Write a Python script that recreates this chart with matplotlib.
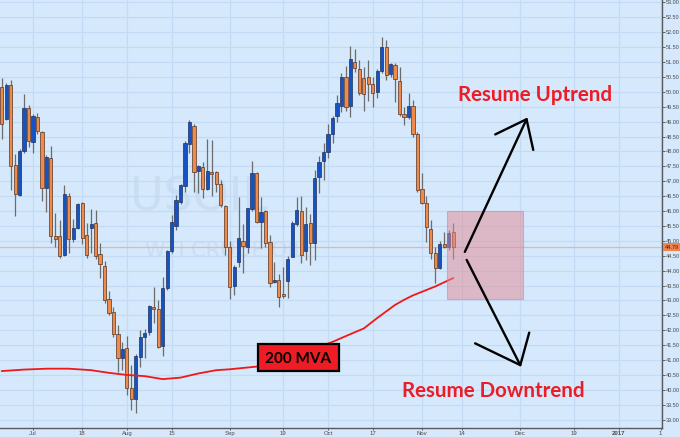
import numpy as np
import matplotlib
matplotlib.use("Agg")
import matplotlib.pyplot as plt
from matplotlib.patches import Rectangle

# Daily USOIL candles, 22 Jun 2016 - 10 Nov 2016 (weekday index from 0)
opens = [50.15, 49.08, 50.22, 47.54, 46.53, 48.01, 49.47, 48.31, 49.16, 48.65,
         46.76, 47.79, 45.16, 45.15, 44.52, 46.51, 45.07, 45.44, 46.26, 45.18,
         45.42, 45.59, 44.57, 44.15, 43.04, 42.60, 41.87, 41.06, 41.41, 40.05,
         39.68, 41.11, 41.78, 41.95, 42.79, 42.70, 41.47, 43.41, 44.66, 45.50,
         46.31, 46.85, 48.25, 48.85, 47.34, 47.49, 46.74, 47.32, 47.31, 46.91,
         46.17, 44.80, 43.48, 44.28, 45.00, 44.78, 46.08, 47.27, 45.62, 46.01,
         44.95, 43.62, 43.68, 43.18, 43.66, 44.47, 45.56, 46.01, 44.67, 45.59,
         44.92, 47.15, 47.69, 47.99, 48.58, 49.19, 49.52, 50.51, 49.52, 51.01,
         50.76, 50.47, 50.51, 50.25, 49.98, 50.71, 51.49, 50.60, 50.90, 50.36,
         49.25, 49.16, 49.53, 48.57, 46.73, 46.26, 45.40, 44.58, 44.08, 44.89,
         44.78, 45.31]
highs = [50.45, 50.29, 50.40, 47.91, 48.09, 49.93, 49.56, 49.26, 49.30, 48.70,
         47.88, 48.18, 45.92, 45.70, 46.87, 46.60, 45.73, 46.28, 46.30, 45.59,
         46.06, 46.03, 44.92, 44.32, 43.33, 42.78, 42.17, 41.61, 41.81, 40.83,
         41.20, 42.00, 42.03, 42.85, 43.46, 43.01, 43.80, 44.70, 45.87, 46.54,
         46.90, 48.35, 49.05, 48.92, 47.55, 47.65, 48.41, 48.38, 47.35, 47.04,
         46.20, 45.00, 44.20, 46.48, 45.56, 46.10, 47.69, 47.30, 46.48, 46.05,
         45.20, 44.30, 43.90, 44.11, 44.50, 45.65, 46.48, 46.50, 46.14, 45.90,
         47.38, 47.85, 48.27, 48.92, 49.20, 49.89, 50.62, 50.87, 51.54, 51.43,
         51.07, 50.84, 51.07, 50.50, 50.75, 51.85, 51.74, 50.96, 50.96, 50.84,
         49.50, 49.95, 49.72, 48.65, 47.29, 46.50, 45.70, 44.80, 45.00, 45.31,
         45.35, 45.59]
lows = [48.42, 49.05, 46.70, 45.84, 46.50, 47.95, 48.16, 47.94, 48.60, 46.35,
        45.96, 44.92, 44.80, 44.43, 44.50, 44.58, 44.96, 45.40, 44.89, 44.44,
        44.58, 44.40, 43.76, 42.90, 42.50, 41.78, 40.61, 40.66, 39.83, 39.32,
        39.21, 40.77, 41.06, 41.84, 42.23, 41.40, 41.13, 43.35, 44.60, 45.36,
        46.22, 46.65, 47.96, 46.65, 46.61, 46.43, 46.70, 46.50, 46.65, 46.12,
        44.52, 43.04, 43.18, 44.11, 43.91, 44.58, 46.00, 45.60, 44.75, 44.80,
        43.46, 43.57, 42.77, 43.07, 43.07, 44.45, 45.50, 44.24, 44.36, 44.19,
        44.36, 46.59, 47.04, 47.77, 48.27, 49.00, 49.33, 49.37, 49.14, 50.67,
        49.90, 49.37, 49.70, 49.48, 49.78, 50.62, 50.40, 50.51, 49.67, 49.19,
        48.89, 49.10, 48.47, 46.65, 46.23, 44.97, 44.38, 43.59, 44.05, 44.75,
        44.70, 44.38]
closes = [48.91, 50.22, 47.52, 46.56, 48.01, 49.46, 48.34, 49.19, 48.68, 46.76,
          47.82, 45.15, 45.07, 44.50, 46.56, 45.05, 45.42, 46.24, 45.08, 44.52,
          45.57, 44.49, 44.21, 43.01, 42.59, 41.86, 41.06, 41.36, 40.05, 39.68,
          41.13, 41.78, 41.92, 42.81, 42.71, 41.43, 43.41, 44.66, 45.64, 46.37,
          46.87, 48.27, 48.98, 47.32, 47.51, 46.74, 47.34, 47.24, 46.91, 46.20,
          44.78, 43.46, 44.13, 45.08, 44.84, 46.09, 47.27, 45.64, 45.98, 44.94,
          43.57, 43.67, 43.12, 43.14, 44.38, 45.59, 46.03, 44.52, 45.56, 44.92,
          47.12, 47.65, 47.99, 48.58, 49.13, 49.63, 50.51, 49.50, 51.09, 50.81,
          49.95, 49.92, 50.25, 49.97, 50.71, 51.49, 50.56, 50.92, 50.42, 49.24,
          49.16, 49.53, 48.58, 46.70, 46.28, 45.45, 44.60, 44.08, 44.89, 44.78,
          45.27, 44.79]

# 200-period moving average, sampled at candle indices
mva_idx = [0, 5, 10, 15, 20, 24, 28, 32, 36, 40, 44, 48, 51, 55, 57, 62, 67,
           72, 74, 78, 81, 84, 86, 88, 90, 92, 94, 97, 101]
mva_val = [40.63, 40.68, 40.71, 40.71, 40.66, 40.57, 40.50, 40.46, 40.36,
           40.41, 40.55, 40.66, 40.69, 40.75, 40.78, 41.00, 41.27, 41.50,
           41.61, 41.87, 42.06, 42.41, 42.63, 42.85, 43.02, 43.17, 43.29,
           43.47, 43.75]

# Date axis labels at weekday indices
tick_pos = [7, 18, 28, 38, 51, 63, 73, 83, 94, 103, 116, 128, 138, 147.4]
tick_lab = ["Jul", "18", "Aug", "15", "Sep", "19", "Oct", "17", "Nov", "14",
            "Dec", "19", "2017", "1"]

BG = "#d5e8fc"
GRID = "#c2daf4"
UP = "#1552c4"
DOWN = "#f08a4b"
RED = "#ee1c25"

plt.rcParams["font.family"] = ["Liberation Sans", "DejaVu Sans"]

fig = plt.figure(figsize=(6.8, 4.37), dpi=100, facecolor=BG)
ax = fig.add_axes([0, 9 / 437, 662 / 680, 428 / 437], facecolor=BG)
ax.set_xlim(-0.38, 147.7)
ax.set_ylim(38.72, 53.08)

# background watermark
ax.text(28.7, 46.45, "USOIL", fontsize=33, color="#c9ddf3", ha="left",
        va="center", family="DejaVu Sans", zorder=0.5)
ax.text(32.0, 44.65, "WTI CRUDE OIL", fontsize=15, color="#c9ddf3",
        ha="left", va="center", family="DejaVu Sans", zorder=0.5)

# last price line
last = closes[-1]
ax.axhline(last, color="#e3b7a6", lw=0.9, zorder=1)

# candles
o = np.array(opens); h = np.array(highs); l = np.array(lows); c = np.array(closes)
x = np.arange(len(o))
up = c >= o
ax.vlines(x, l, h, color="#6c6c6c", lw=0.9, zorder=2)
body_lo = np.minimum(o, c)
body_h = np.maximum(np.abs(c - o), 0.06)
ax.bar(x[up], body_h[up], bottom=body_lo[up], width=0.72, color=UP,
       edgecolor="#22325a", linewidth=0.5, zorder=3)
ax.bar(x[~up], body_h[~up], bottom=body_lo[~up], width=0.72, color=DOWN,
       edgecolor="#5a3520", linewidth=0.5, zorder=3)

# 200 MVA
ax.plot(mva_idx, mva_val, color="#f01818", lw=1.3, zorder=4,
        solid_capstyle="round", solid_joinstyle="round")

# shaded decision zone
ax.add_patch(Rectangle((99.7, 43.04), 17.0, 2.96, facecolor="#e38a94",
                       alpha=0.5, edgecolor="#b88595", lw=0.8, zorder=5))

# scenario arrows
arrow_kw = dict(color="black", lw=1.7, zorder=6, solid_capstyle="round")
ax.plot([103.6, 117.4], [44.63, 49.08], **arrow_kw)
ax.plot([110.4, 117.4, 118.9], [48.57, 49.08, 48.05], **arrow_kw)
ax.plot([104.0, 116.0], [44.36, 40.83], **arrow_kw)
ax.plot([105.9, 116.0, 118.0], [41.56, 40.83, 41.92], **arrow_kw)

ax.text(119.4, 49.70, "Resume Uptrend", color=RED, fontsize=14.8,
        fontweight="bold", family="Lato", ha="center", va="baseline",
        zorder=7)
ax.text(110.0, 39.75, "Resume Downtrend", color=RED, fontsize=14.8,
        fontweight="bold", family="Lato", ha="center", va="baseline",
        zorder=7)

# 200 MVA label
ax.add_patch(Rectangle((57.27, 40.63), 18.26, 0.90, facecolor=RED,
                       edgecolor="black", lw=1.6, zorder=7))
ax.text(66.4, 41.08, "200 MVA", color="black", fontsize=11,
        fontweight="bold", family="Lato", ha="center", va="center_baseline",
        zorder=8)

# axes styling
ax.yaxis.tick_right()
ax.set_yticks(np.arange(39.0, 53.01, 0.5))
ax.set_yticklabels([f"{v:.2f}" for v in np.arange(39.0, 53.01, 0.5)])
ax.set_xticks(tick_pos)
ax.set_xticklabels(tick_lab)
for t in ax.get_xticklabels():
    if t.get_text() == "2017":
        t.set_fontweight("bold")
ax.tick_params(axis="y", labelsize=4.0, colors="#4a4a4a", length=2,
               width=0.6, pad=1.0)
ax.tick_params(axis="x", labelsize=4.3, colors="#4a4a4a", length=1.5,
               width=0.6, pad=0.6)
ax.grid(True, color=GRID, lw=0.8, zorder=0)
ax.set_axisbelow(True)
for side in ("top", "left"):
    ax.spines[side].set_visible(False)
for side in ("right", "bottom"):
    ax.spines[side].set_color("#5a5a5a")
    ax.spines[side].set_linewidth(1.0)

# last price tag on the price scale
ax.annotate(f"{last:.2f}", xy=(1.0, last), xycoords=("axes fraction", "data"),
            xytext=(2.0, 0), textcoords="offset points", fontsize=4.0,
            color="#2a2a2a", ha="left", va="center",
            bbox=dict(boxstyle="square,pad=0.3", fc="#f0834d", ec="none"),
            annotation_clip=False, zorder=10)

fig.savefig("out.png", dpi=100, facecolor=BG)
